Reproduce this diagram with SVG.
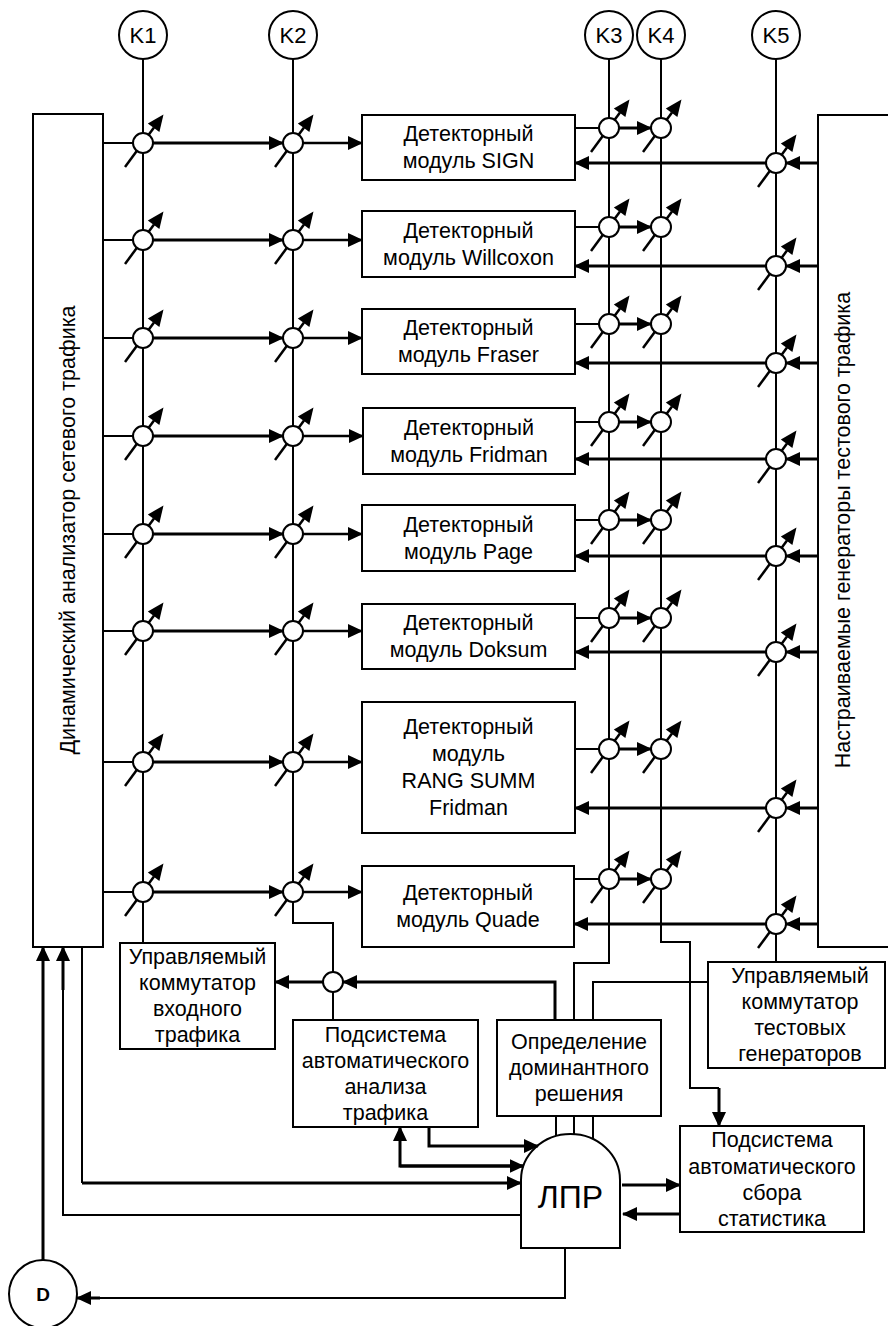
<svg xmlns="http://www.w3.org/2000/svg" xmlns:xlink="http://www.w3.org/1999/xlink" width="888" height="1326" viewBox="0 0 888 1326">
<style>
.b{fill:#fff;stroke:#000;stroke-width:2}
.l{fill:none;stroke:#000;stroke-width:2}
.m{fill:none;stroke:#000;stroke-width:2.5}
.t{fill:none;stroke:#000;stroke-width:3}
.a{marker-end:url(#ah)}
text{font-family:"Liberation Sans",Arial,sans-serif;font-size:21.5px;text-anchor:middle;fill:#000}
.k{font-size:22px}
</style>
<defs>
<marker id="ah" markerUnits="userSpaceOnUse" markerWidth="15" markerHeight="14" refX="14" refY="7" orient="auto">
<path d="M0,0 L15,7 L0,14 z" fill="#000"/>
</marker>
<g id="sw">
<line x1="-18" y1="24" x2="11" y2="-15.5" stroke="#000" stroke-width="2.5"/>
<polygon points="20.5,-28.5 16.4,-11 4.8,-19.5" fill="#000"/>
<circle r="10" fill="#fff" stroke="#000" stroke-width="2"/>
</g>
</defs>
<rect width="888" height="1326" fill="#fff"/>

<g id="analyzer"><rect class="b" x="33" y="114" width="70" height="833"/>
<text transform="translate(75,530) rotate(-90)">Динамический анализатор сетевого трафика</text></g>
<g id="generators"><rect class="b" x="818" y="115" width="100" height="832"/>
<text transform="translate(850,530) rotate(-90)">Настраиваемые генераторы тестового трафика</text></g>

<g id="K1"><circle class="b" cx="143" cy="35" r="24"/><text class="k" x="143" y="43">K1</text></g>
<g id="K2"><circle class="b" cx="293" cy="35" r="24"/><text class="k" x="293" y="43">K2</text></g>
<g id="K3"><circle class="b" cx="609" cy="35" r="24"/><text class="k" x="609" y="43">K3</text></g>
<g id="K4"><circle class="b" cx="661" cy="35" r="24"/><text class="k" x="661" y="43">K4</text></g>
<g id="K5"><circle class="b" cx="776" cy="35" r="24"/><text class="k" x="776" y="43">K5</text></g>

<g id="det1"><rect class="b" x="362" y="115" width="213" height="65"/><text x="468.5" y="141">Детекторный</text><text x="468.5" y="168">модуль SIGN</text></g>
<g id="det2"><rect class="b" x="362" y="211" width="213" height="66"/><text x="468.5" y="238">Детекторный</text><text x="468.5" y="265">модуль Willcoxon</text></g>
<g id="det3"><rect class="b" x="362" y="309" width="213" height="65"/><text x="468.5" y="335">Детекторный</text><text x="468.5" y="362">модуль Fraser</text></g>
<g id="det4"><rect class="b" x="363" y="408" width="212" height="66"/><text x="469" y="435">Детекторный</text><text x="469" y="462">модуль Fridman</text></g>
<g id="det5"><rect class="b" x="362" y="505" width="213" height="66"/><text x="468.5" y="532">Детекторный</text><text x="468.5" y="559">модуль Page</text></g>
<g id="det6"><rect class="b" x="362" y="604" width="213" height="65"/><text x="468.5" y="630">Детекторный</text><text x="468.5" y="657">модуль Doksum</text></g>
<g id="det7"><rect class="b" x="362" y="702" width="213" height="131"/><text x="468.5" y="734">Детекторный</text><text x="468.5" y="761">модуль</text><text x="468.5" y="788">RANG SUMM</text><text x="468.5" y="815">Fridman</text></g>
<g id="det8"><rect class="b" x="362" y="866" width="212" height="81"/><text x="468" y="900">Детекторный</text><text x="468" y="927">модуль Quade</text></g>

<g id="inputSwitch"><rect class="b" x="120" y="943" width="155" height="106"/><text x="197.5" y="964">Управляемый</text><text x="197.5" y="990">коммутатор</text><text x="197.5" y="1016">входного</text><text x="197.5" y="1042">трафика</text></g>
<g id="analysis"><rect class="b" x="293" y="1020" width="185" height="107"/><text x="385.5" y="1042">Подсистема</text><text x="385.5" y="1068">автоматического</text><text x="385.5" y="1094">анализа</text><text x="385.5" y="1120">трафика</text></g>
<g id="dominant"><rect class="b" x="497" y="1020" width="164" height="96"/><text x="579" y="1049">Определение</text><text x="579" y="1075">доминантного</text><text x="579" y="1101">решения</text></g>
<g id="testSwitch"><rect class="b" x="708" y="962" width="177" height="106"/><text x="800" y="983">Управляемый</text><text x="800" y="1009">коммутатор</text><text x="800" y="1035">тестовых</text><text x="800" y="1061">генераторов</text></g>
<g id="stats"><rect class="b" x="680" y="1126" width="184" height="106"/><text x="772" y="1147">Подсистема</text><text x="772" y="1174">автоматического</text><text x="772" y="1200">сбора</text><text x="772" y="1226">статистика</text></g>
<g id="LPR"><path class="b" d="M521,1248 V1180 A49.5,46 0 0 1 620,1180 V1248 Z"/><text x="570.5" y="1208" style="font-size:32px">ЛПР</text></g>
<g id="D"><circle class="b" cx="43" cy="1294" r="34"/><text x="43" y="1301" style="font-size:19px;font-weight:bold">D</text></g>

<g id="connectors">
<path class="l" d="M143,59 V943"/>
<path class="l" d="M293,59 V923 H333 V1020"/>
<path class="l" d="M609,59 V963 H574 V1020"/>
<path class="l" d="M661,59 V942 H690 V1088 H719"/>
<path class="t a" d="M719,1088 V1126"/>
<path class="l" d="M776,59 V962"/>
<path class="l" d="M708,982 H593 V1020"/>
<path class="t a" d="M555,1020 V982 H343"/>
<path class="t a" d="M323,982 H275"/>
<path class="l" d="M556,1116 V1136 M574,1116 V1134 M593,1116 V1139"/>
<path class="t a" d="M429,1127 V1146 H538"/>
<path class="t a" d="M523.5,1166 H400 V1127"/>
<path class="t a" d="M400,1166 H523.5"/>
<path class="l" d="M82,947 V1183"/>
<path class="t a" d="M82,1183 H521"/>
<path class="l" d="M521,1215 H63 V960"/>
<path class="t a" d="M63,990 V947"/>
<path class="t a" d="M43,1260 V947"/>
<path class="l" d="M565,1248 V1298 H90"/>
<path class="t a" d="M100,1298 H77"/>
<path class="t a" d="M622,1185 H680"/>
<path class="t a" d="M680,1214 H623"/>
<g id="rows">
<path class="l" d="M103,143 H143 M103,240 H143 M103,338 H143 M103,436 H143 M103,534 H143 M103,631 H143 M103,762 H143 M103,892 H143"/>
<path class="t a" d="M153,143 H283"/><path class="t a" d="M153,240 H283"/><path class="t a" d="M153,338 H283"/><path class="t a" d="M153,436 H283"/><path class="t a" d="M153,534 H283"/><path class="t a" d="M153,631 H283"/><path class="t a" d="M153,762 H283"/><path class="t a" d="M153,892 H283"/>
<path class="m a" d="M303,143 H362"/><path class="m a" d="M303,240 H362"/><path class="m a" d="M303,338 H362"/><path class="m a" d="M303,436 H363"/><path class="m a" d="M303,534 H362"/><path class="m a" d="M303,631 H362"/><path class="m a" d="M303,762 H362"/><path class="m a" d="M303,892 H362"/>
<path class="l" d="M575,128 H609 M575,227 H609 M575,324 H609 M575,422 H609 M575,520 H609 M575,618 H609 M575,749 H609 M574,879 H609"/>
<path class="t a" d="M619,128 H651"/><path class="t a" d="M619,227 H651"/><path class="t a" d="M619,324 H651"/><path class="t a" d="M619,422 H651"/><path class="t a" d="M619,520 H651"/><path class="t a" d="M619,618 H651"/><path class="t a" d="M619,749 H651"/><path class="t a" d="M619,879 H651"/>
<path class="t a" d="M818,163 H786"/><path class="t a" d="M818,266 H786"/><path class="t a" d="M818,363 H786"/><path class="t a" d="M818,459 H786"/><path class="t a" d="M818,556 H786"/><path class="t a" d="M818,652 H786"/><path class="t a" d="M818,808 H786"/><path class="t a" d="M818,924 H786"/>
<path class="t a" d="M766,163 H575"/><path class="t a" d="M766,266 H575"/><path class="t a" d="M766,363 H575"/><path class="t a" d="M766,459 H575"/><path class="t a" d="M766,556 H575"/><path class="t a" d="M766,652 H575"/><path class="t a" d="M766,808 H575"/><path class="t a" d="M766,924 H574"/>
</g>
</g>

<g id="switches">
<use href="#sw" x="143" y="143"/><use href="#sw" x="293" y="143"/><use href="#sw" x="609" y="128"/><use href="#sw" x="661" y="128"/><use href="#sw" x="776" y="163"/>
<use href="#sw" x="143" y="240"/><use href="#sw" x="293" y="240"/><use href="#sw" x="609" y="227"/><use href="#sw" x="661" y="227"/><use href="#sw" x="776" y="266"/>
<use href="#sw" x="143" y="338"/><use href="#sw" x="293" y="338"/><use href="#sw" x="609" y="324"/><use href="#sw" x="661" y="324"/><use href="#sw" x="776" y="363"/>
<use href="#sw" x="143" y="436"/><use href="#sw" x="293" y="436"/><use href="#sw" x="609" y="422"/><use href="#sw" x="661" y="422"/><use href="#sw" x="776" y="459"/>
<use href="#sw" x="143" y="534"/><use href="#sw" x="293" y="534"/><use href="#sw" x="609" y="520"/><use href="#sw" x="661" y="520"/><use href="#sw" x="776" y="556"/>
<use href="#sw" x="143" y="631"/><use href="#sw" x="293" y="631"/><use href="#sw" x="609" y="618"/><use href="#sw" x="661" y="618"/><use href="#sw" x="776" y="652"/>
<use href="#sw" x="143" y="762"/><use href="#sw" x="293" y="762"/><use href="#sw" x="609" y="749"/><use href="#sw" x="661" y="749"/><use href="#sw" x="776" y="808"/>
<use href="#sw" x="143" y="892"/><use href="#sw" x="293" y="892"/><use href="#sw" x="609" y="879"/><use href="#sw" x="661" y="879"/><use href="#sw" x="776" y="924"/>
<circle class="b" cx="333" cy="982" r="10"/>
</g>
</svg>
